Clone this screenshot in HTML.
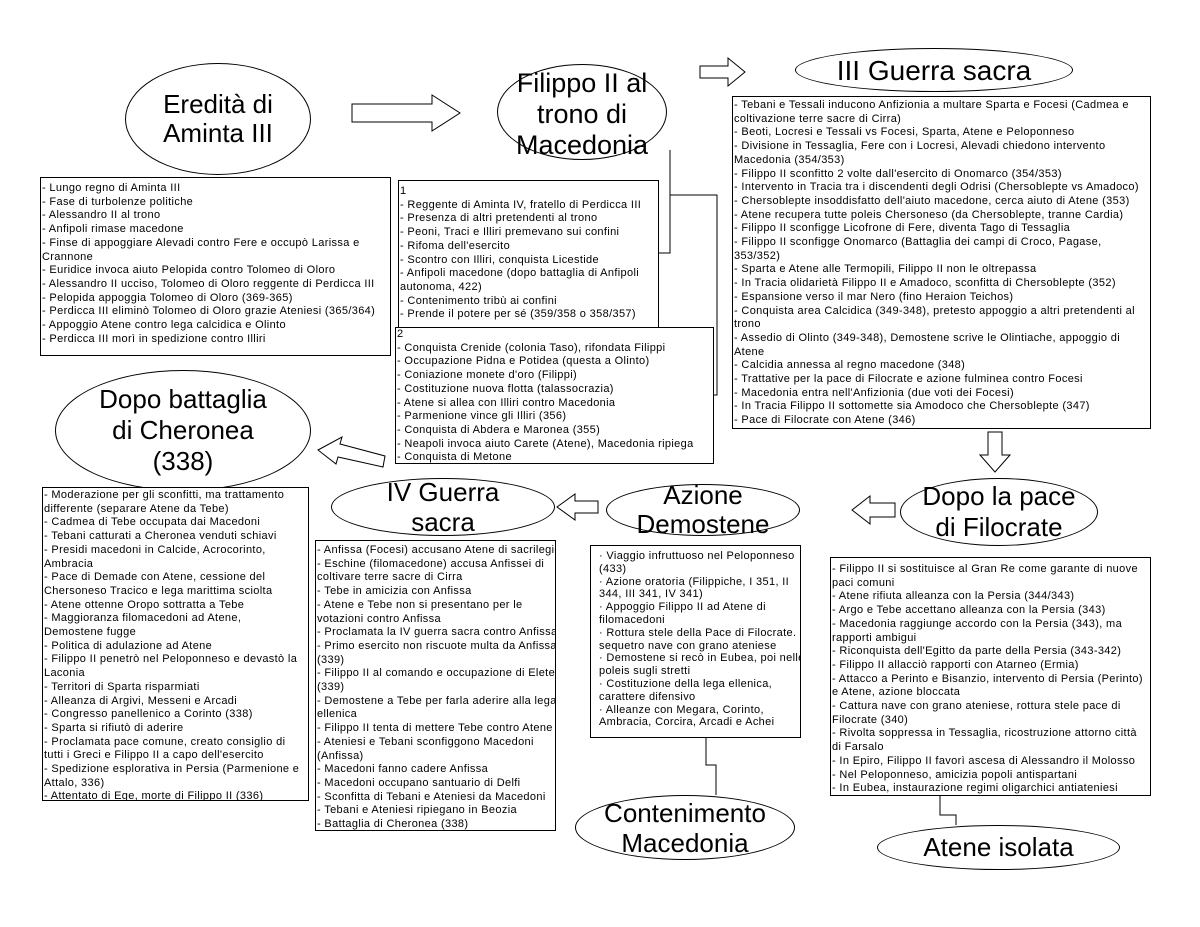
<!DOCTYPE html>
<html><head><meta charset="utf-8"><style>
body{margin:0;width:1200px;height:927px;background:#fff;position:relative;overflow:hidden;font-family:"Liberation Sans",Arial,sans-serif;color:#000}
.box{position:absolute;border:1px solid #000;background:#fff;font-size:11px;letter-spacing:0.35px;line-height:13.7px;box-sizing:border-box;padding:4px 0 0 1px;white-space:nowrap;overflow:hidden}
.el{position:absolute;border:1px solid #000;border-radius:50%;box-sizing:border-box;display:flex;align-items:center;justify-content:center;text-align:center;font-size:26px;line-height:29px;background:#fff}
svg{position:absolute;left:0;top:0}
</style></head><body>
<svg width="1200" height="927" fill="none" stroke="#000" stroke-width="1">
<polyline points="670,150 670,253 658,253"/>
<polyline points="670,195 717,195 717,395 713,395"/>
<polyline points="706,737 706,765 716,765 716,795"/>
<polyline points="940,795 940,815 956,815 956,825"/>
<polygon points="352,104 432,104 432,95 460,113 432,131 432,122 352,122"/>
<polygon points="700,66 728,66 728,58 745,72 728,86 728,78 700,78"/>
<polygon points="988,432 1002,432 1002,455 1010,455 995,472 980,455 988,455"/>
<polygon points="895,503 870,503 870,496 852,510 870,524 870,517 895,517"/>
<polygon points="598,501 575,501 575,494 557,507 575,520 575,513 598,513"/>
<polygon points="385,456 340,444 342,437 318,450 336,464 338,457 383,467"/>
</svg>
<div class="el" style="left:125px;top:63px;width:186px;height:112px">Eredità di<br>Aminta III</div>
<div class="el" style="left:497px;top:64px;width:170px;height:96px;align-items:flex-start;padding-top:3px;font-size:27px;line-height:31px">Filippo II al<br>trono di<br>Macedonia</div>
<div class="el" style="left:795px;top:48px;width:278px;height:44px;font-size:28px">III Guerra sacra</div>
<div class="el" style="left:55px;top:370px;width:256px;height:121px;font-size:26px;line-height:31px">Dopo battaglia<br>di Cheronea<br>(338)</div>
<div class="el" style="left:331px;top:478px;width:224px;height:58px;font-size:26px;line-height:30px">IV Guerra<br>sacra</div>
<div class="el" style="left:606px;top:484px;width:194px;height:52px;line-height:29px">Azione<br>Demostene</div>
<div class="el" style="left:900px;top:478px;width:198px;height:68px;line-height:31px">Dopo la pace<br>di Filocrate</div>
<div class="el" style="left:575px;top:795px;width:220px;height:65px;line-height:30px">Contenimento<br>Macedonia</div>
<div class="el" style="left:877px;top:825px;width:243px;height:45px;font-size:26px">Atene isolata</div>

<div class="box" style="left:40px;top:177px;width:351px;height:179px">- Lungo regno di Aminta III<br>- Fase di turbolenze politiche<br>- Alessandro II al trono<br>- Anfipoli rimase macedone<br>- Finse di appoggiare Alevadi contro Fere e occupò Larissa e<br>Crannone<br>- Euridice invoca aiuto Pelopida contro Tolomeo di Oloro<br>- Alessandro II ucciso, Tolomeo di Oloro reggente di Perdicca III<br>- Pelopida appoggia Tolomeo di Oloro (369-365)<br>- Perdicca III eliminò Tolomeo di Oloro grazie Ateniesi (365/364)<br>- Appoggio Atene contro lega calcidica e Olinto<br>- Perdicca III morì in spedizione contro Illiri</div>
<div class="box" style="left:398px;top:180px;width:261px;height:148px">1<br>- Reggente di Aminta IV, fratello di Perdicca III<br>- Presenza di altri pretendenti al trono<br>- Peoni, Traci e Illiri premevano sui confini<br>- Rifoma dell'esercito<br>- Scontro con Illiri, conquista Licestide<br>- Anfipoli macedone (dopo battaglia di Anfipoli<br>autonoma, 422)<br>- Contenimento tribù ai confini<br>- Prende il potere per sé (359/358 o 358/357)</div>
<div class="box" style="left:395px;top:327px;width:319px;height:137px;padding-top:0">2<br>- Conquista Crenide (colonia Taso), rifondata Filippi<br>- Occupazione Pidna e Potidea (questa a Olinto)<br>- Coniazione monete d'oro (Filippi)<br>- Costituzione nuova flotta (talassocrazia)<br>- Atene si allea con Illiri contro Macedonia<br>- Parmenione vince gli Illiri (356)<br>- Conquista di Abdera e Maronea (355)<br>- Neapoli invoca aiuto Carete (Atene), Macedonia ripiega<br>- Conquista di Metone</div>
<div class="box" style="left:732px;top:96px;width:419px;height:333px;padding-top:2px">- Tebani e Tessali inducono Anfizionia a multare Sparta e Focesi (Cadmea e<br>coltivazione terre sacre di Cirra)<br>- Beoti, Locresi e Tessali vs Focesi, Sparta, Atene e Peloponneso<br>- Divisione in Tessaglia, Fere con i Locresi, Alevadi chiedono intervento<br>Macedonia (354/353)<br>- Filippo II sconfitto 2 volte dall'esercito di Onomarco (354/353)<br>- Intervento in Tracia tra i discendenti degli Odrisi (Chersoblepte vs Amadoco)<br>- Chersoblepte insoddisfatto dell'aiuto macedone, cerca aiuto di Atene (353)<br>- Atene recupera tutte poleis Chersoneso (da Chersoblepte, tranne Cardia)<br>- Filippo II sconfigge Licofrone di Fere, diventa Tago di Tessaglia<br>- Filippo II sconfigge Onomarco (Battaglia dei campi di Croco, Pagase,<br>353/352)<br>- Sparta e Atene alle Termopili, Filippo II non le oltrepassa<br>- In Tracia olidarietà Filippo II e Amadoco, sconfitta di Chersoblepte (352)<br>- Espansione verso il mar Nero (fino Heraion Teichos)<br>- Conquista area Calcidica (349-348), pretesto appoggio a altri pretendenti al<br>trono<br>- Assedio di Olinto (349-348), Demostene scrive le Olintiache, appoggio di<br>Atene<br>- Calcidia annessa al regno macedone (348)<br>- Trattative per la pace di Filocrate e azione fulminea contro Focesi<br>- Macedonia entra nell'Anfizionia (due voti dei Focesi)<br>- In Tracia Filippo II sottomette sia Amodoco che Chersoblepte (347)<br>- Pace di Filocrate con Atene (346)</div>
<div class="box" style="left:42px;top:487px;width:267px;height:314px;padding-top:1px">- Moderazione per gli sconfitti, ma trattamento<br>differente (separare Atene da Tebe)<br>- Cadmea di Tebe occupata dai Macedoni<br>- Tebani catturati a Cheronea venduti schiavi<br>- Presidi macedoni in Calcide, Acrocorinto,<br>Ambracia<br>- Pace di Demade con Atene, cessione del<br>Chersoneso Tracico e lega marittima sciolta<br>- Atene ottenne Oropo sottratta a Tebe<br>- Maggioranza filomacedoni ad Atene,<br>Demostene fugge<br>- Politica di adulazione ad Atene<br>- Filippo II penetrò nel Peloponneso e devastò la<br>Laconia<br>- Territori di Sparta risparmiati<br>- Alleanza di Argivi, Messeni e Arcadi<br>- Congresso panellenico a Corinto (338)<br>- Sparta si rifiutò di aderire<br>- Proclamata pace comune, creato consiglio di<br>tutti i Greci e Filippo II a capo dell'esercito<br>- Spedizione esplorativa in Persia (Parmenione e<br>Attalo, 336)<br>- Attentato di Ege, morte di Filippo II (336)</div>
<div class="box" style="left:315px;top:540px;width:241px;height:291px;padding-top:3px">- Anfissa (Focesi) accusano Atene di sacrilegio<br>- Eschine (filomacedone) accusa Anfissei di<br>coltivare terre sacre di Cirra<br>- Tebe in amicizia con Anfissa<br>- Atene e Tebe non si presentano per le<br>votazioni contro Anfissa<br>- Proclamata la IV guerra sacra contro Anfissa<br>- Primo esercito non riscuote multa da Anfissa<br>(339)<br>- Filippo II al comando e occupazione di Eletea<br>(339)<br>- Demostene a Tebe per farla aderire alla lega<br>ellenica<br>- Filippo II tenta di mettere Tebe contro Atene<br>- Ateniesi e Tebani sconfiggono Macedoni<br>(Anfissa)<br>- Macedoni fanno cadere Anfissa<br>- Macedoni occupano santuario di Delfi<br>- Sconfitta di Tebani e Ateniesi da Macedoni<br>- Tebani e Ateniesi ripiegano in Beozia<br>- Battaglia di Cheronea (338)</div>
<div class="box" style="left:590px;top:545px;width:211px;height:193px;padding:4px 0 0 8px;line-height:12.8px">· Viaggio infruttuoso nel Peloponneso<br>(433)<br>· Azione oratoria (Filippiche, I 351, II<br>344, III 341, IV 341)<br>· Appoggio Filippo II ad Atene di<br>filomacedoni<br>· Rottura stele della Pace di Filocrate.<br>sequetro nave con grano ateniese<br>· Demostene si recò in Eubea, poi nelle<br>poleis sugli stretti<br>· Costituzione della lega ellenica,<br>carattere difensivo<br>· Alleanze con Megara, Corinto,<br>Ambracia, Corcira, Arcadi e Achei</div>
<div class="box" style="left:830px;top:557px;width:321px;height:239px;padding-top:5px">- Filippo II si sostituisce al Gran Re come garante di nuove<br>paci comuni<br>- Atene rifiuta alleanza con la Persia (344/343)<br>- Argo e Tebe accettano alleanza con la Persia (343)<br>- Macedonia raggiunge accordo con la Persia (343), ma<br>rapporti ambigui<br>- Riconquista dell'Egitto da parte della Persia (343-342)<br>- Filippo II allacciò rapporti con Atarneo (Ermia)<br>- Attacco a Perinto e Bisanzio, intervento di Persia (Perinto)<br>e Atene, azione bloccata<br>- Cattura nave con grano ateniese, rottura stele pace di<br>Filocrate (340)<br>- Rivolta soppressa in Tessaglia, ricostruzione attorno città<br>di Farsalo<br>- In Epiro, Filippo II favorì ascesa di Alessandro il Molosso<br>- Nel Peloponneso, amicizia popoli antispartani<br>- In Eubea, instaurazione regimi oligarchici antiateniesi</div>
</body></html>
